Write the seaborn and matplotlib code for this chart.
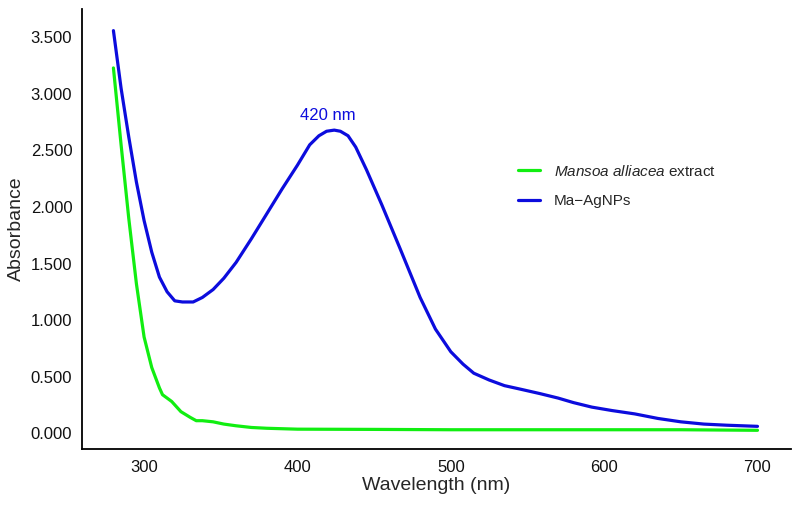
import pandas as pd
import matplotlib
matplotlib.use("Agg")
import matplotlib.pyplot as plt
import seaborn as sns

# Ma-AgNPs (blue)
agnp_nm = [280, 285, 290, 295, 300, 305, 310, 315, 320, 325, 332, 338, 345, 352, 360, 370,
           380, 390, 400, 408, 414, 419, 424, 428, 433, 438, 445, 455, 467, 480, 490, 500,
           508, 515, 525, 535, 545, 558, 570, 580, 592, 605, 620, 635, 650, 665, 680, 700]
agnp_abs = [3.56, 3.05, 2.62, 2.22, 1.88, 1.60, 1.38, 1.25, 1.17, 1.16, 1.16, 1.20, 1.27, 1.37,
            1.51, 1.72, 1.94, 2.16, 2.37, 2.55, 2.63, 2.67, 2.68, 2.67, 2.63, 2.53, 2.33, 2.02,
            1.63, 1.20, 0.92, 0.72, 0.61, 0.53, 0.47, 0.42, 0.39, 0.35, 0.31, 0.27, 0.23, 0.20,
            0.17, 0.13, 0.10, 0.08, 0.07, 0.06]

# Mansoa alliacea extract (green)
ext_nm = [280, 285, 290, 295, 300, 305, 310, 312, 318, 324, 330, 334, 338, 345, 352, 360,
          370, 380, 400, 450, 500, 550, 600, 650, 700]
ext_abs = [3.23, 2.55, 1.90, 1.32, 0.85, 0.58, 0.40, 0.34, 0.28, 0.19, 0.14, 0.11, 0.11,
           0.10, 0.08, 0.065, 0.05, 0.043, 0.035, 0.033, 0.03, 0.03, 0.03, 0.03, 0.025]

labels = [r"$\it{Mansoa\ alliacea}$ extract", "Ma\u2212AgNPs"]

df = pd.concat([
    pd.DataFrame({"nm": ext_nm, "abs": ext_abs, "sample": labels[0]}),
    pd.DataFrame({"nm": agnp_nm, "abs": agnp_abs, "sample": labels[1]}),
])

sns.set_style("white")
plt.rcParams["font.family"] = ["Liberation Sans", "DejaVu Sans"]
plt.rcParams["mathtext.fontset"] = "custom"
plt.rcParams["mathtext.it"] = "Liberation Sans:italic"
plt.rcParams["mathtext.rm"] = "Liberation Sans"

fig = plt.figure(figsize=(7.96, 5.08), dpi=100)
ax = fig.add_axes([0.103, 0.116, 0.891, 0.866])

sns.lineplot(data=df, x="nm", y="abs", hue="sample", ax=ax,
             palette={labels[0]: "#11ee11", labels[1]: "#0c0cdd"},
             linewidth=2.3, sort=False)

ax.set_xlim(259.5, 722)
ax.set_ylim(-0.141, 3.75)
ax.set_xticks([300, 400, 500, 600, 700])
ax.set_yticks([0, 0.5, 1, 1.5, 2, 2.5, 3, 3.5])
ax.set_yticklabels(["%.3f" % v for v in ax.get_yticks()])
ax.tick_params(length=0, labelsize=12, colors="#111111")
ax.tick_params(axis="x", pad=8)
ax.tick_params(axis="y", pad=7)
ax.set_xlabel("Wavelength (nm)", fontsize=14, labelpad=1)
ax.set_ylabel("Absorbance", fontsize=14, labelpad=4)

for s in ["top", "right"]:
    ax.spines[s].set_visible(False)
for s in ["left", "bottom"]:
    ax.spines[s].set_color("black")
    ax.spines[s].set_linewidth(1.3)

ax.text(420, 2.74, "420 nm", color="#0c0cdd", fontsize=12, ha="center", va="bottom")

ax.legend(frameon=False, loc="upper left", bbox_to_anchor=(0.596, 0.68),
          fontsize=11, handlelength=1.4, handletextpad=0.9, labelspacing=1.0,
          title=None)

fig.savefig("out.png", dpi=100)
